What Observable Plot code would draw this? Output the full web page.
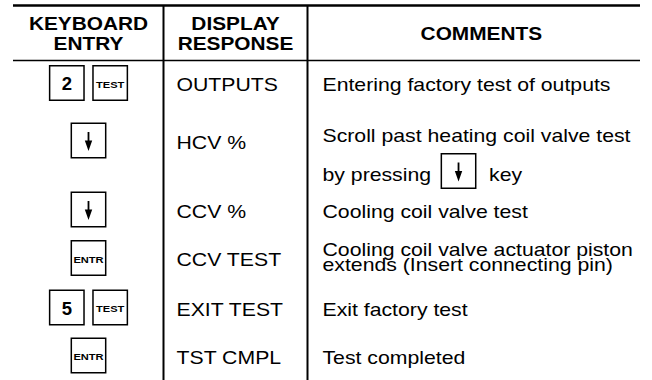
<!DOCTYPE html>
<html><head><meta charset="utf-8">
<script src="https://cdn.jsdelivr.net/npm/d3@7"></script>
<script src="https://cdn.jsdelivr.net/npm/@observablehq/plot@0.6"></script>
<style>html,body{margin:0;padding:0;background:#fff;}</style>
</head><body><div id="chart"></div>
<script>
// ---- table content ----
const headers = ["KEYBOARD\nENTRY", "DISPLAY\nRESPONSE", "COMMENTS"];
const keys = [["2", "TEST"], ["↓"], ["↓"], ["ENTR"], ["5", "TEST"], ["ENTR"]];
const displays = ["OUTPUTS", "HCV %", "CCV %", "CCV TEST", "EXIT TEST", "TST CMPL"];
const comments = [
  ["Entering factory test of outputs"],
  ["Scroll past heating coil valve test", "by pressing [↓] key"],
  ["Cooling coil valve test"],
  ["Cooling coil valve actuator piston", "extends (Insert connecting pin)"],
  ["Exit factory test"],
  ["Test completed"]
];

// ---- layout (styling, not data) ----
const W = 652, H = 380;
const colEdges = [13, 163, 307, 640];
const rowCenters = [82.5, 140, 209, 257.5, 307, 355];
const ruleTop = 5, ruleHead = 60;
const headerAlign = [0.5, 0.5, 0.522];
const keyStep = 0.289;          // spacing of side-by-side keys, as a column fraction
const baseline = 8;             // px from row centre to text baseline
const commentFirst = [0, -7, 0, -10.5, 0, 0];
const commentStep = [0, 39, 0, 15.5, 0, 0];
const font = "'Liberation Sans', Arial, Helvetica, sans-serif";
const stretch = {header: 1.12, display: 1.13, comment: 1.13, keyword: 1.17, digit: 1.0};
const regSize = 18.8, boldSize = 18.6, tinySize = 9.5;

// table grid: column index -> layout unit, row index -> layout unit
const col = d3.scaleLinear().domain([0, 1, 2, 3]).range(colEdges);
const row = d3.scaleLinear().domain([0, 1, 1.5, 2.5, 3.5, 4.5, 5.5, 6.5, 7]).range([ruleTop, ruleHead, ...rowCenters, H]);

const ctx = document.createElement("canvas").getContext("2d");
ctx.font = `${regSize}px ${font}`;
const measure = s => ctx.measureText(s).width * stretch.comment;

// ---- derived tables ----
const headerData = headers.map((h, i) => ({label: h, x: col(i + headerAlign[i]), y: row(0.5)}));
const displayData = displays.map((d, r) => ({label: d, x: col(1) + 13, y: row(r + 1.5) + baseline}));
const commentData = [];
const keyData = keys.flatMap((ks, r) => ks.map((k, i) => ({key: k, x: col(0.5 + (i - (ks.length - 1) / 2) * keyStep), y: row(r + 1.5)})));
comments.forEach((lines, r) => {
  lines.forEach((line, j) => {
    const off = baseline + commentFirst[r] + j * commentStep[r];
    const yv = row(r + 1.5) + off;
    const m = line.match(/^(.*?)\s*\[(.+?)\]\s*(.*)$/);
    if (m) {
      const before = m[1], k = m[2], after = m[3];
      const x0 = col(2) + 15;
      commentData.push({label: before, x: x0, y: yv});
      const cx = x0 + measure(before) + 10 + 17.5;
      keyData.push({key: k, x: cx, y: yv - 9.5});
      commentData.push({label: after, x: cx + 17.5 + 13, y: yv});
    } else {
      commentData.push({label: line, x: col(2) + 15, y: yv});
    }
  });
});
const hRules = [{y: row(0), w: 2.5}, {y: row(1), w: 1.5}];
const vRules = [col(1), col(2)];

const arrowSymbol = {
  draw(c) {
    c.moveTo(-0.9, -8.5); c.lineTo(0.9, -8.5); c.lineTo(0.9, 0);
    c.lineTo(3.7, 0); c.lineTo(0, 10.5); c.lineTo(-3.7, 0);
    c.lineTo(-0.9, 0); c.closePath();
  }
};

const chart = Plot.plot({
  width: W, height: H, margin: 0,
  style: {fontFamily: font, background: "white", color: "black"},
  x: {domain: [0, W], range: [0, W], axis: null},
  y: {domain: [0, H], range: [0, H], axis: null},
  marks: [
    Plot.ruleY(hRules, {y: "y", x1: col(0), x2: col(3), stroke: "black", strokeWidth: "w"}),
    Plot.ruleX(vRules, {x: d => d, y1: row(0), y2: row(7), stroke: "black", strokeWidth: 2}),
    Plot.text(headerData, {x: "x", y: "y", text: "label", fontSize: boldSize, fontWeight: "bold",
      lineHeight: 20 / boldSize, lineAnchor: "middle", dy: 1, fill: "black", ariaDescription: "header"}),
    Plot.text(displayData, {x: "x", y: "y", text: "label", fontSize: regSize, textAnchor: "start",
      lineAnchor: "bottom", fill: "black", ariaDescription: "display"}),
    Plot.text(commentData, {x: "x", y: "y", text: "label", fontSize: regSize, textAnchor: "start",
      lineAnchor: "bottom", fill: "black", ariaDescription: "comment"}),
    Plot.dot(keyData, {x: "x", y: "y", symbol: "square", r: 19.4, fill: "white", stroke: "black", strokeWidth: 1.5}),
    Plot.dot(keyData.filter(d => d.key === "↓"), {x: "x", y: "y", symbol: arrowSymbol, r: 10, fill: "black", stroke: "none"}),
    Plot.text(keyData.filter(d => /^\d$/.test(d.key)), {x: "x", y: "y", text: "key", fontSize: 18.5,
      fontWeight: "bold", lineAnchor: "middle", dy: 1.2, fill: "black", ariaDescription: "digit"}),
    Plot.text(keyData.filter(d => d.key.length > 1), {x: "x", y: "y", text: "key", fontSize: tinySize,
      fontWeight: "bold", lineAnchor: "middle", dy: 1.5, fill: "black", ariaDescription: "keyword"})
  ]
});

// horizontal stretch of the lettering, as in the reference print
chart.querySelectorAll("g[aria-description]").forEach(g => {
  const s = stretch[g.getAttribute("aria-description")];
  if (!s || s === 1) return;
  g.querySelectorAll("text").forEach(t => {
    const tf = t.getAttribute("transform");
    if (tf) t.setAttribute("transform", `${tf} scale(${s},1)`);
    else {
      const x = +t.getAttribute("x") || 0, y = +t.getAttribute("y") || 0;
      t.removeAttribute("x"); t.removeAttribute("y");
      t.setAttribute("transform", `translate(${x},${y}) scale(${s},1)`);
    }
  });
});
document.getElementById("chart").appendChild(chart);
</script>
</body></html>
